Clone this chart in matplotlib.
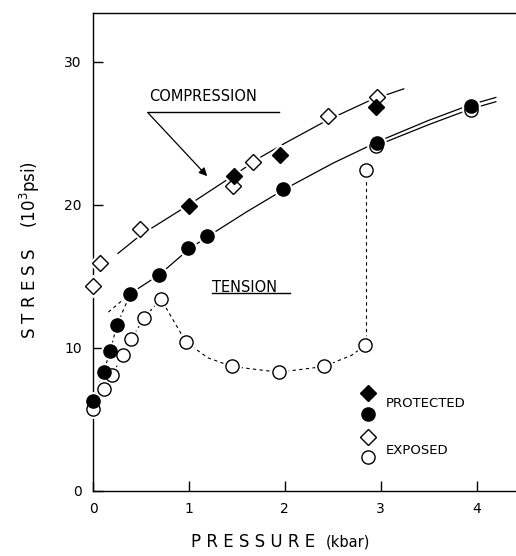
import matplotlib.pyplot as plt
import numpy as np

# measured points (pressure in kbar, stress in 10^3 psi)
prot_diamond_x = [1.0, 1.47, 1.95, 2.95]
prot_diamond_y = [19.9, 22.0, 23.5, 26.8]
exp_diamond_x = [0.0, 0.07, 0.49, 1.46, 1.67, 2.45, 2.96]
exp_diamond_y = [14.3, 15.9, 18.3, 21.3, 23.0, 26.2, 27.5]
prot_circle_x = [0.0, 0.11, 0.18, 0.25, 0.39, 0.69, 0.99, 1.19, 1.98, 2.96, 3.94]
prot_circle_y = [6.3, 8.3, 9.8, 11.6, 13.8, 15.1, 17.0, 17.8, 21.1, 24.3, 26.9]
exp_circle_x = [0.0, 0.11, 0.2, 0.31, 0.4, 0.53, 0.71, 0.97, 1.45, 1.94, 2.41, 2.84, 2.85, 2.95, 3.94]
exp_circle_y = [5.7, 7.1, 8.1, 9.5, 10.6, 12.1, 13.4, 10.4, 8.7, 8.3, 8.7, 10.2, 22.4, 24.1, 26.6]

# hand-drawn curves
comp_curve_x = [0.26, 0.5, 1.0, 1.5, 1.74, 2.0, 2.44, 2.89, 3.24]
comp_curve_y = [16.6, 17.9, 20.0, 22.2, 23.3, 24.3, 25.9, 27.3, 28.1]
tens_curve_x = [0.39, 0.69, 1.0, 1.2, 1.6, 2.0, 2.5, 3.0, 3.5, 3.94, 4.2]
tens_curve_y = [13.8, 15.1, 16.9, 17.8, 19.5, 21.1, 22.9, 24.5, 25.9, 27.0, 27.5]
tens_low_x = [2.98, 3.5, 3.94, 4.2]
tens_low_y = [24.2, 25.6, 26.7, 27.2]
exp_dash_x = [0.0, 0.11, 0.2, 0.31, 0.4, 0.53, 0.71, 0.97, 1.2, 1.45, 1.94, 2.41, 2.7, 2.84]
exp_dash_y = [5.7, 7.1, 8.1, 9.5, 10.6, 12.1, 13.4, 10.4, 9.3, 8.7, 8.3, 8.7, 9.5, 10.2]
exp_jump_x = [2.85, 2.85]
exp_jump_y = [10.2, 22.4]
prot_dash_x = [0.0, 0.11, 0.18, 0.25, 0.39]
prot_dash_y = [6.3, 8.3, 9.8, 11.6, 13.8]
prot_dash2_x = [0.16, 0.39]
prot_dash2_y = [12.5, 13.8]

xticks = [0, 1, 2, 3, 4]
yticks = [0, 10, 20, 30]

fig = plt.figure(figsize=(5.16, 5.56), dpi=100)
ax = fig.add_axes([93 / 516, 65 / 556, 423 / 516, 478 / 556])

lw = 0.9
ax.plot(comp_curve_x, comp_curve_y, color="black", lw=lw, zorder=1)
ax.plot(tens_curve_x, tens_curve_y, color="black", lw=lw, zorder=1)
ax.plot(tens_low_x, tens_low_y, color="black", lw=lw, zorder=1)
dash = (0, (3, 3))
ax.plot(exp_dash_x, exp_dash_y, color="black", lw=0.8, ls=dash, zorder=1)
ax.plot(exp_jump_x, exp_jump_y, color="black", lw=0.8, ls=dash, zorder=1)
ax.plot(prot_dash_x, prot_dash_y, color="black", lw=0.8, ls=dash, zorder=1)
ax.plot(prot_dash2_x, prot_dash2_y, color="black", lw=0.8, ls=dash, zorder=1)

sets = [
    (exp_circle_x, exp_circle_y, "o", "white"),
    (exp_diamond_x, exp_diamond_y, "D", "white"),
    (prot_circle_x, prot_circle_y, "o", "black"),
    (prot_diamond_x, prot_diamond_y, "D", "black"),
]
# white halos break the lines around the symbols
for x, y, m, fc in sets:
    ax.plot(x, y, ls="none", marker=m, ms=(12.5 if m == "o" else 11.5), mfc="white",
            mec="white", zorder=3, clip_on=False)
for x, y, m, fc in sets:
    ax.plot(x, y, ls="none", marker=m, ms=(9.5 if m == "o" else 8.5), mfc=fc,
            mec="black", mew=1.0, zorder=4, clip_on=False)

# legend symbols
ax.plot([2.87], [6.85], ls="none", marker="D", ms=8.5, mfc="black", mec="black", clip_on=False)
ax.plot([2.87], [5.35], ls="none", marker="o", ms=9.5, mfc="black", mec="black", clip_on=False)
ax.plot([2.87], [3.8], ls="none", marker="D", ms=8.5, mfc="white", mec="black", clip_on=False)
ax.plot([2.87], [2.4], ls="none", marker="o", ms=9.5, mfc="white", mec="black", clip_on=False)
ax.text(3.05, 6.1, "PROTECTED", fontsize=9.5, va="center", ha="left")
ax.text(3.05, 2.85, "EXPOSED", fontsize=9.5, va="center", ha="left")

# curve labels
ax.text(0.58, 27.6, "COMPRESSION", fontsize=10.5, va="center", ha="left")
ax.plot([0.57, 1.94], [26.5, 26.5], color="black", lw=1.0)
ax.annotate("", xy=(1.19, 22.0), xytext=(0.57, 26.45),
            arrowprops=dict(arrowstyle="-|>", color="black", lw=0.9,
                            shrinkA=0, shrinkB=0, mutation_scale=12))
ax.text(1.24, 14.2, "TENSION", fontsize=10.5, va="center", ha="left")
ax.plot([1.24, 2.05], [13.85, 13.85], color="black", lw=1.0)

ax.set_xlim(0, 4.41)
ax.set_ylim(0, 33.4)
ax.set_xticks(xticks)
ax.set_yticks(yticks)
ax.tick_params(direction="in", length=7, width=1, labelsize=10, pad=8)
ax.spines["right"].set_visible(False)
for s in ["left", "bottom", "top"]:
    ax.spines[s].set_linewidth(1.0)

fig.text(30 / 516, 1 - 250 / 556, "S T R E S S    (10$^3$psi)", rotation=90,
         fontsize=12, ha="center", va="center")
fig.text(253 / 516, 1 - 542 / 556, "P R E S S U R E", fontsize=12, ha="center", va="center")
fig.text(348 / 516, 1 - 542 / 556, "(kbar)", fontsize=10.5, ha="center", va="center")

fig.savefig("out.png", dpi=100)
